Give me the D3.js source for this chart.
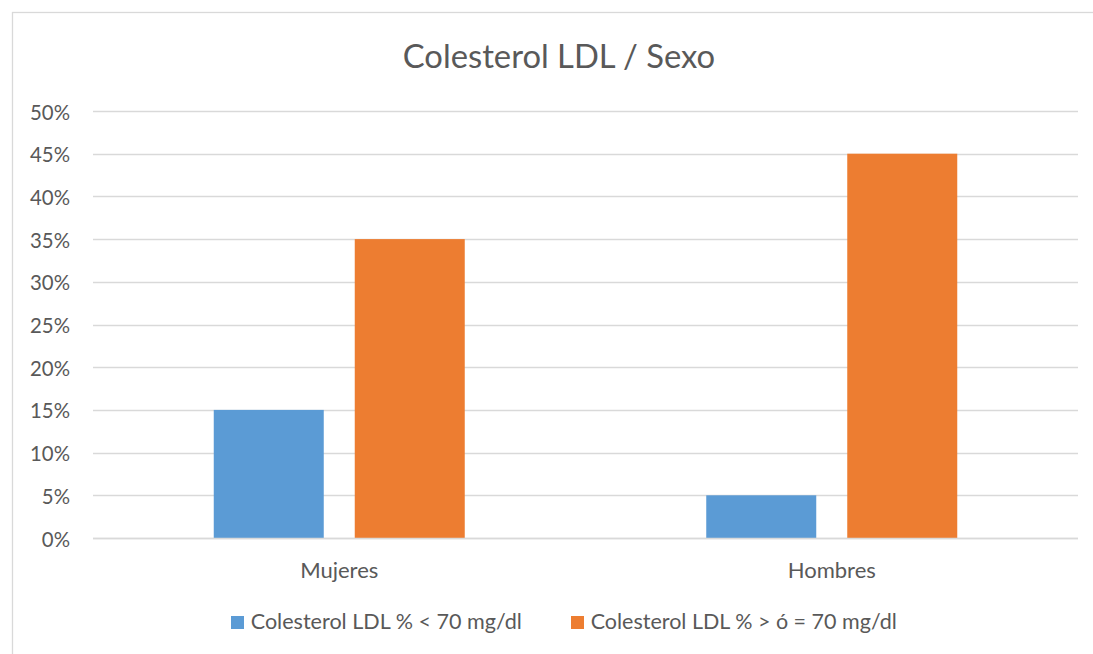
<!DOCTYPE html>
<html>
<head>
<meta charset="utf-8">
<script src="https://cdn.jsdelivr.net/npm/d3@7/dist/d3.min.js"></script>
<style>
  html, body { margin: 0; padding: 0; background: #fff; }
  svg { display: block; }
  text { font-family: Lato, "Open Sans", sans-serif; fill: #595959; }
</style>
</head>
<body>
<svg id="chart" width="1093" height="654"></svg>
<script>
const title = "Colesterol LDL / Sexo";
const categories = ["Mujeres", "Hombres"];
const seriesNames = ["Colesterol LDL % < 70 mg/dl", "Colesterol LDL % > ó = 70 mg/dl"];
const seriesLow = [0.15, 0.05];
const seriesHigh = [0.35, 0.45];
const yTicks = [0, 0.05, 0.10, 0.15, 0.20, 0.25, 0.30, 0.35, 0.40, 0.45, 0.50];
const colors = ["#5B9BD5", "#ED7D31"];

const svg = d3.select("#chart");
const W = 1093, H = 654;

// fit helper: set font size so that text width matches target
function fitSize(sel, target, base) {
  sel.attr("font-size", base);
  const w = sel.node().getComputedTextLength();
  const s = base * target / w;
  sel.attr("font-size", s);
  return s;
}

// chart border
svg.append("rect")
  .attr("x", 12.5).attr("y", 12.5)
  .attr("width", 1100).attr("height", 700)
  .attr("fill", "none").attr("stroke", "#d9d9d9").attr("stroke-width", 1.3);

const plot = { left: 93, right: 1078, top: 111, bottom: 538 };

const y = d3.scaleLinear().domain([0, 0.5]).range([plot.bottom, plot.top]);
const x0 = d3.scaleBand().domain(categories).range([plot.left, plot.right]).padding(0);
const groupW = 251;
const x1 = d3.scaleBand().domain(seriesNames).range([0, groupW]).paddingInner(31 / 141).paddingOuter(0);

// gridlines
const yAxis = d3.axisLeft(y).tickValues(yTicks).tickSize(0).tickFormat(d3.format(".0%"));
svg.append("g")
  .selectAll("line.grid")
  .data(yTicks)
  .join("line")
  .attr("x1", plot.left).attr("x2", plot.right)
  .attr("y1", d => Math.round(y(d)) + 0.5).attr("y2", d => Math.round(y(d)) + 0.5)
  .attr("stroke", "#d9d9d9").attr("stroke-width", 1.3);

// y axis labels
const gy = svg.append("g").attr("transform", `translate(70,0)`).call(yAxis);
gy.select(".domain").remove();
let tickSize = null;
gy.selectAll(".tick text")
  .attr("x", 0).attr("dy", null)
  .attr("fill", "#595959")
  .attr("font-family", "Lato, 'Open Sans', sans-serif")
  .attr("text-anchor", "end")
  .attr("dominant-baseline", "central")
  .each(function(d) {
    if (d === 0.5) tickSize = fitSize(d3.select(this), 40, 20);
  });
gy.selectAll(".tick text").attr("font-size", tickSize);

// bars
const rows = categories.map((c, i) => ({ cat: c, vals: [seriesLow[i], seriesHigh[i]] }));
const groups = svg.append("g").selectAll("g.grp")
  .data(rows).join("g")
  .attr("transform", d => `translate(${x0(d.cat) + (x0.bandwidth() - groupW) / 2},0)`);
groups.selectAll("rect")
  .data(d => d.vals.map((v, j) => ({ name: seriesNames[j], v, j })))
  .join("rect")
  .attr("x", d => x1(d.name))
  .attr("width", x1.bandwidth())
  .attr("y", d => y(d.v))
  .attr("height", d => y(0) - y(d.v))
  .attr("fill", d => colors[d.j]);

// baseline redraw
svg.append("line")
  .attr("x1", plot.left).attr("x2", plot.right)
  .attr("y1", Math.round(y(0)) + 0.5).attr("y2", Math.round(y(0)) + 0.5)
  .attr("stroke", "#d9d9d9").attr("stroke-width", 1.3);

// x axis labels
const xAxis = d3.axisBottom(x0).tickSize(0);
const gx = svg.append("g").attr("transform", `translate(0,${plot.bottom})`).call(xAxis);
gx.select(".domain").remove();
gx.selectAll(".tick text")
  .attr("y", 40).attr("dy", null)
  .attr("fill", "#595959")
  .attr("font-family", "Lato, 'Open Sans', sans-serif")
  .each(function(d) { if (d === "Mujeres") fitSize(d3.select(this), 78.3, 20); });
const catSize = +gx.select(".tick text").attr("font-size");
gx.selectAll(".tick text").attr("font-size", catSize);

// title
const t = svg.append("text")
  .attr("x", 559).attr("y", 68.3)
  .attr("text-anchor", "middle")
  .text(title);
fitSize(t, 312.5, 30);

// legend
const legendX = [231, 571];
const legendTarget = [271.3, 306.3];
const lg = svg.append("g").selectAll("g")
  .data(seriesNames).join("g")
  .attr("transform", (d, i) => `translate(${legendX[i]},0)`);
lg.append("rect")
  .attr("x", 0).attr("y", 616).attr("width", 13).attr("height", 13)
  .attr("fill", (d, i) => colors[i]);
lg.append("text")
  .attr("x", 19.7).attr("y", 629.3)
  .text(d => d)
  .each(function(d, i) { fitSize(d3.select(this), legendTarget[i], 20); });
</script>
</body>
</html>
